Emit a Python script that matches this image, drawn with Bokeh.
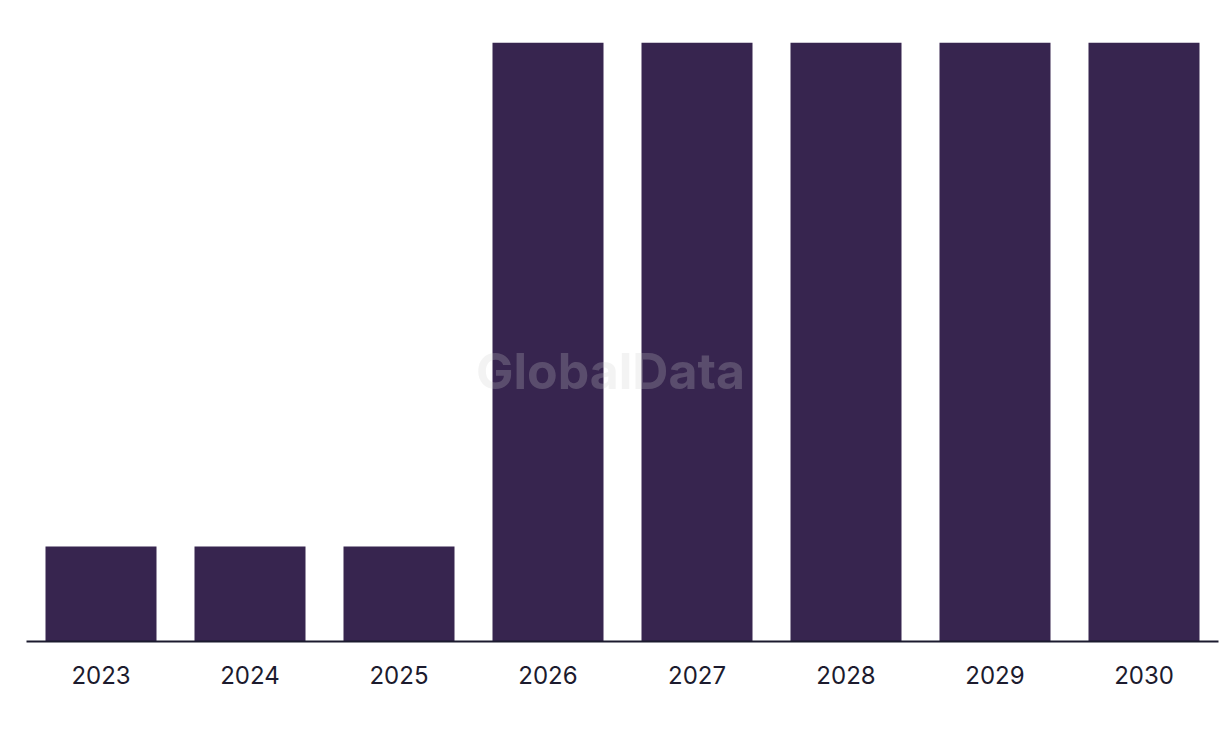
from bokeh.plotting import figure
from bokeh.models import Range1d, Label
from bokeh.embed import file_html
from bokeh.resources import INLINE

years = ["2023", "2024", "2025", "2026", "2027", "2028", "2029", "2030"]
values = [1.0, 1.0, 1.0, 6.3, 6.3, 6.3, 6.3, 6.3]

p = figure(x_range=years, y_range=Range1d(0, 6.3), width=1220, height=738,
           output_backend="svg", toolbar_location=None,
           min_border_left=26, min_border_right=2, min_border_top=42, min_border_bottom=97)
p.vbar(x=years, top=values, width=0.745, color="#37254F", line_color=None)

p.x_range.range_padding = 0
p.outline_line_color = None
p.grid.visible = False
p.yaxis.visible = False
p.xaxis.axis_line_color = "#1b1a2e"
p.xaxis.axis_line_width = 2
p.xaxis.major_tick_line_color = None
p.xaxis.minor_tick_line_color = None
p.xaxis.major_label_text_font = "Inter"
p.xaxis.major_label_text_font_size = "24px"
p.xaxis.major_label_text_color = "#1c1b2e"
p.xaxis.major_label_standoff = 18
p.background_fill_color = "white"
p.border_fill_color = "white"

wm = Label(x=584, y=271, x_units="screen", y_units="screen", text="GlobalData",
           text_font="Inter", text_font_style="bold", text_font_size="50px",
           text_color="#cccccc", text_alpha=0.24, text_align="center", text_baseline="middle")
p.add_layout(wm)

open("out.html", "w").write(file_html(p, INLINE))
